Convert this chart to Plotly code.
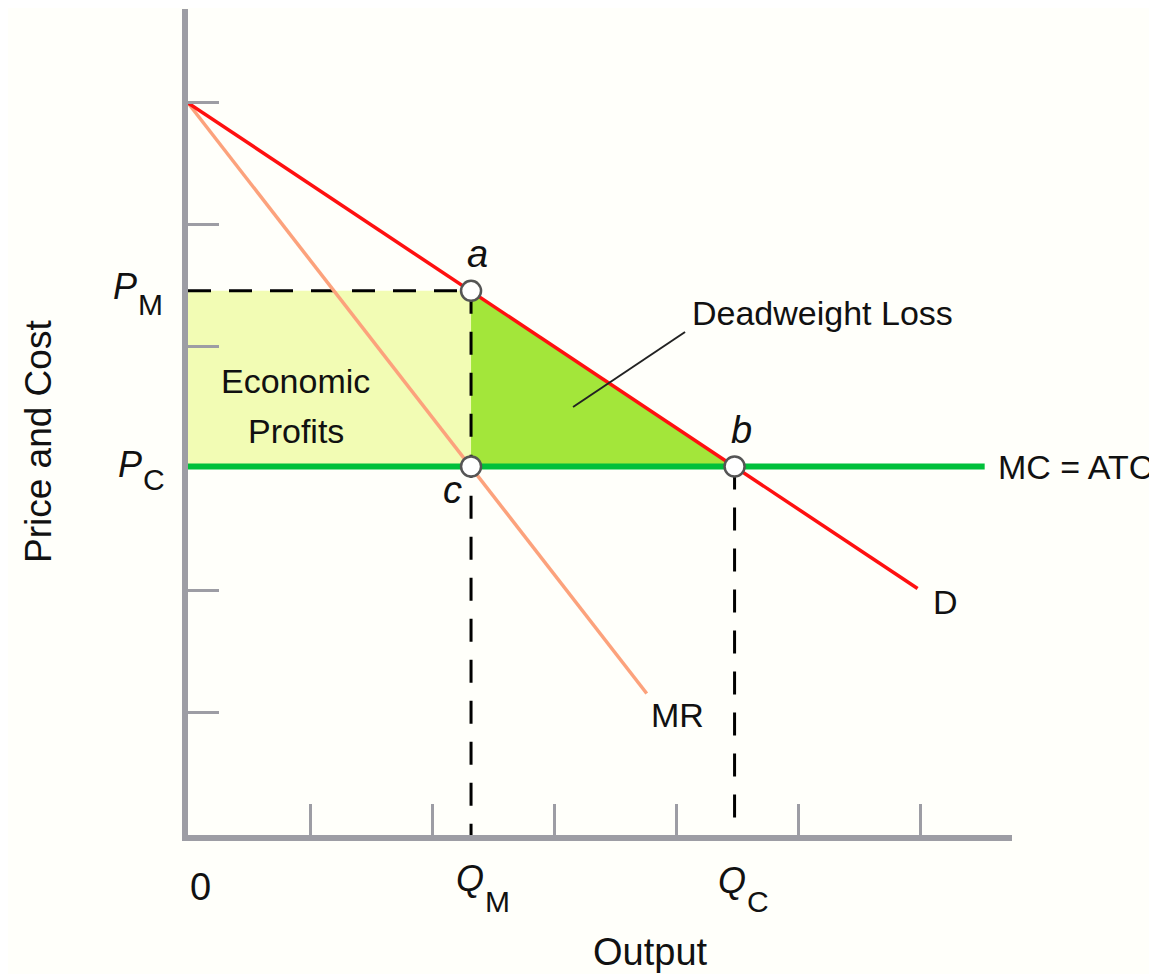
import plotly.graph_objects as go

# ---- data (economic units) ----
demand_x = [0.0, 5.98]
demand_y = [6.0, 2.02]
mr_x = [0.0, 3.76]
mr_y = [6.0, 1.16]
mc_x = [0.0, 6.53]
Q_M = 2.32
P_M = 4.46
Q_C = 4.48
P_C = 3.02
mc_y = [P_C, P_C]
x_ticks = [1, 2, 3, 4, 5, 6]
y_ticks = [1, 2, 4, 5, 6]
leader_x = [3.156, 4.074]
leader_y = [3.508, 4.123]
point_names = ["a", "b", "c"]
point_x = [Q_M, Q_C, Q_M]
point_y = [P_M, P_C, P_C]

# ---- page geometry (the page body has an 8px margin) ----
OFF = 8
W, H = 1157 - OFF, 974 - OFF
PLOT_LEFT, PLOT_BOTTOM, PLOT_TOP = 188, 835, 9          # in page pixels
L = PLOT_LEFT - OFF
T = PLOT_TOP - OFF
B = 974 - PLOT_BOTTOM
R = 0
PW, PH = W - L - R, H - T - B
X_MAX = 6.754
Y_MAX = 6.770

FONT = "Liberation Sans, Arial, sans-serif"
AXIS_GRAY = "#9d9da4"
BG = "#fffffa"

fig = go.Figure()

# Economic profits rectangle
fig.add_trace(go.Scatter(x=[0, Q_M, Q_M, 0, 0], y=[P_C, P_C, P_M, P_M, P_C],
                         fill="toself", fillcolor="#f2fcb4", mode="none",
                         hoverinfo="skip"))
# Deadweight loss triangle
fig.add_trace(go.Scatter(x=[Q_M, Q_C, Q_M, Q_M], y=[P_M, P_C, P_C, P_M],
                         fill="toself", fillcolor="#a3e63a", mode="none",
                         hoverinfo="skip"))

dash = dict(color="black", width=3, dash="23px,18px")
fig.add_trace(go.Scatter(x=[0, Q_M], y=[P_M, P_M], mode="lines", line=dash))
fig.add_trace(go.Scatter(x=[Q_M, Q_M], y=[P_M, 0], mode="lines", line=dash))
fig.add_trace(go.Scatter(x=[Q_C, Q_C], y=[P_C, 0], mode="lines", line=dash))

# MR
fig.add_trace(go.Scatter(x=mr_x, y=mr_y, mode="lines",
                         line=dict(color="#fca27c", width=3.5)))
# MC = ATC
fig.add_trace(go.Scatter(x=mc_x, y=mc_y, mode="lines",
                         line=dict(color="#00c03a", width=6)))
# Demand
fig.add_trace(go.Scatter(x=demand_x, y=demand_y, mode="lines",
                         line=dict(color="#ff1010", width=3.5)))
# leader line for deadweight loss
fig.add_trace(go.Scatter(x=leader_x, y=leader_y, mode="lines",
                         line=dict(color="#222222", width=2)))
# points a, b, c
fig.add_trace(go.Scatter(x=point_x, y=point_y, mode="markers",
                         marker=dict(size=20, color="white",
                                     line=dict(color="#555555", width=2.5))))


def ann(text, px, py, size=34, **kw):
    """px, py: where the label sits on the 1157x974 page."""
    fig.add_annotation(text=text, x=(px - PLOT_LEFT) / PW,
                       y=(PLOT_BOTTOM - py) / PH,
                       xref="paper", yref="paper", showarrow=False,
                       xanchor="center", yanchor="middle",
                       font=dict(family=FONT, size=size, color="#111111"), **kw)


ann("<i>a</i>", 477, 254, size=38)
ann("<i>b</i>", 741, 430, size=38)
ann("<i>c</i>", 452, 490, size=38)
ann("D", 945, 602)
ann("MR", 677, 715)
ann("MC = ATC", 1075, 467)
ann("Deadweight Loss", 822, 313)
ann("Economic", 295, 381)
ann("Profits", 295.5, 431)
ann("0", 200, 887, size=38)
ann("<i>Q</i>", 470, 878.5, size=36)
ann("M", 497.5, 901.5, size=30)
ann("<i>Q</i>", 732, 880.5, size=36)
ann("C", 757.5, 901.5, size=30)
ann("<i>P</i>", 125, 286.5, size=36)
ann("M", 150, 304.5, size=30)
ann("<i>P</i>", 130, 464.5, size=36)
ann("C", 153.5, 479.5, size=30)
ann("Output", 650, 952, size=38)
ann("Price and Cost", 38, 442, size=37, textangle=-90)

fig.update_layout(
    width=W, height=H,
    margin=dict(l=L, r=R, t=T, b=B, pad=0),
    paper_bgcolor=BG, plot_bgcolor=BG,
    showlegend=False,
    xaxis=dict(domain=[0, (1012 - PLOT_LEFT) / PW], range=[0, X_MAX],
               showgrid=False, zeroline=False, showline=True,
               linecolor=AXIS_GRAY, linewidth=6,
               ticks="inside", ticklen=31, tickwidth=3, tickcolor=AXIS_GRAY,
               tickvals=x_ticks, showticklabels=False, fixedrange=True),
    yaxis=dict(range=[0, Y_MAX], showgrid=False, zeroline=False,
               showline=True, linecolor=AXIS_GRAY, linewidth=6,
               ticks="inside", ticklen=31, tickwidth=3, tickcolor=AXIS_GRAY,
               tickvals=y_ticks, showticklabels=False, fixedrange=True),
)

fig.write_html("out.html")
